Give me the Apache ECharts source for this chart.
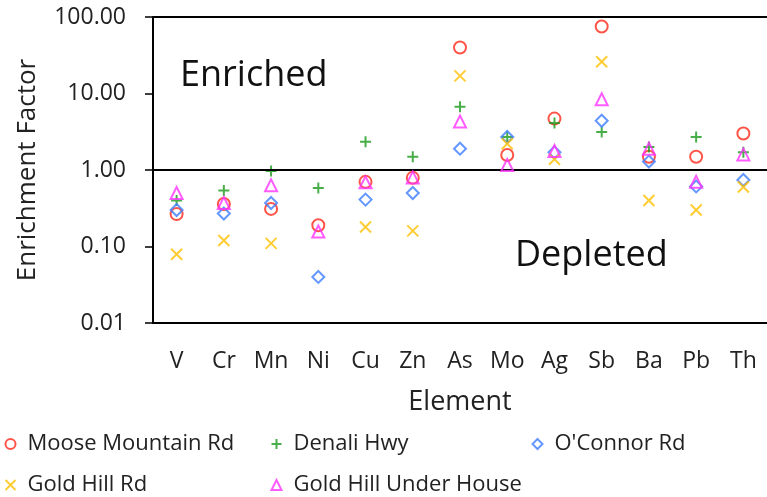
<!DOCTYPE html>
<html>
<head>
<meta charset="utf-8">
<script src="https://cdn.jsdelivr.net/npm/echarts@6/dist/echarts.min.js"></script>
<style>html,body{margin:0;padding:0;background:#fff}#c{width:767px;height:497px}</style>
</head>
<body>
<div id="c"></div>
<script>
const categories = ['V','Cr','Mn','Ni','Cu','Zn','As','Mo','Ag','Sb','Ba','Pb','Th'];
const yTickValues = [0.01, 0.1, 1, 10, 100];
const mooseMountain = [0.265, 0.36, 0.31, 0.19, 0.70, 0.79, 40, 1.57, 4.7, 75, 1.49, 1.49, 3.0];
const denaliHwy = [0.40, 0.54, 0.97, 0.58, 2.34, 1.49, 6.7, 2.7, 4.1, 3.15, 2.0, 2.7, 1.7];
const oConnorRd = [0.30, 0.27, 0.37, 0.040, 0.41, 0.50, 1.9, 2.7, 1.7, 4.4, 1.29, 0.61, 0.74];
const goldHillRd = [0.079, 0.12, 0.11, null, 0.18, 0.16, 17, 2.2, 1.38, 26, 0.40, 0.30, 0.60];
const goldHillUnderHouse = [0.50, 0.37, 0.63, 0.157, 0.69, 0.80, 4.3, 1.16, 1.77, 8.4, 1.9, 0.70, 1.6];

const FONT = 'Open Sans';
const plusPath = 'path://M5,0L5,10M0,5L10,5';
const crossPath = 'path://M0,0L10,10M10,0L0,10';

const seriesDefs = [
  {name:'Moose Mountain Rd', data: mooseMountain, symbol:'circle', color:'#ff2a1a', size:12},
  {name:'Denali Hwy', data: denaliHwy, symbol: plusPath, color:'#1a9a1a', size:11},
  {name:"O'Connor Rd", data: oConnorRd, symbol:'diamond', color:'#3d7dff', size:12},
  {name:'Gold Hill Rd', data: goldHillRd, symbol: crossPath, color:'#ffc000', size:11},
  {name:'Gold Hill Under House', data: goldHillUnderHouse, symbol:'triangle', color:'#ff33ff', size:12}
];

const series = seriesDefs.map((d, i) => ({
  type:'scatter', name:d.name, data:d.data, symbol:d.symbol, symbolSize:d.size,
  itemStyle:{color:'none', borderColor:d.color, borderWidth:2},
  z: 3 + i,
  markLine: i === 0 ? {
    silent:true, symbol:'none', animation:false,
    label:{show:false},
    lineStyle:{color:'#000', width:2, type:'solid'},
    data:[{yAxis:1},{yAxis:100}]
  } : undefined
}));

const legendPos = [
  {left:3, top:433}, {left:269, top:433}, {left:530, top:433},
  {left:3, top:474}, {left:269, top:474}
];
const legends = seriesDefs.map((d, i) => ({
  data:[{name:d.name, icon:d.symbol, itemStyle:{color:'none', borderColor:d.color, borderWidth:2}}],
  left: legendPos[i].left, top: legendPos[i].top, padding:0,
  itemWidth:10, itemHeight:10, itemGap:6,
  textStyle:{fontFamily:FONT, fontSize:22, color:'#222', padding:[0,0,0,7]},
  selectedMode:false
}));

const chart = echarts.init(document.getElementById('c'), null, {renderer:'canvas'});
chart.setOption({
  animation:false,
  backgroundColor:'#fff',
  grid:{left:153, top:17, height:306, width:619.7, containLabel:false},
  xAxis:{
    type:'category', data:categories, boundaryGap:true,
    name:'Element', nameLocation:'middle', nameGap:66,
    nameTextStyle:{fontFamily:FONT, fontSize:27, color:'#222'},
    axisLine:{lineStyle:{color:'#000', width:2}},
    axisTick:{alignWithLabel:true, length:5, lineStyle:{color:'#000', width:1.5}},
    axisLabel:{fontFamily:FONT, fontSize:23, color:'#222', margin:27, interval:0}
  },
  yAxis:{
    type:'log', logBase:10, min:0.01, max:100,
    name:'Enrichment Factor', nameLocation:'middle', nameGap:112, nameRotate:90,
    nameTextStyle:{fontFamily:FONT, fontSize:26, color:'#222'},
    axisLine:{show:true, lineStyle:{color:'#000', width:2}},
    axisTick:{show:true, length:8, lineStyle:{color:'#000', width:1.5}},
    splitLine:{show:false},
    axisLabel:{fontFamily:FONT, fontSize:23, color:'#222', margin:27,
      formatter: v => Number(v).toFixed(2)}
  },
  legend: legends,
  graphic:[
    {type:'text', left:180, top:58, style:{text:'Enriched', font:'36px "Open Sans"', fill:'#111'}},
    {type:'text', left:515, top:238, style:{text:'Depleted', font:'36px "Open Sans"', fill:'#111'}}
  ],
  series: series
});
</script>
</body>
</html>
